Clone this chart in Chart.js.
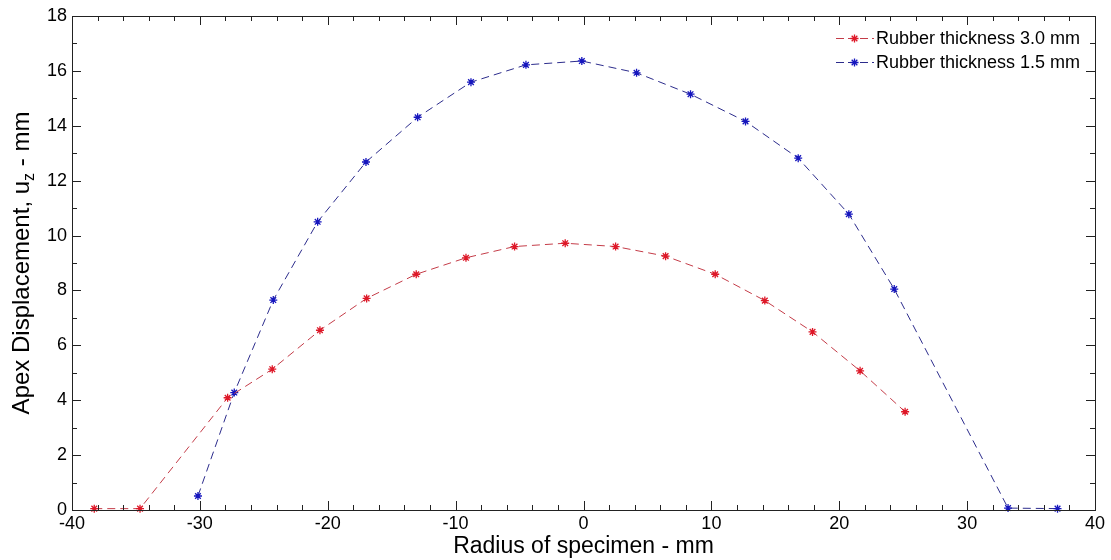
<!DOCTYPE html>
<html>
<head>
<meta charset="utf-8">
<script src="https://cdn.jsdelivr.net/npm/chart.js@4/dist/chart.umd.min.js"></script>
<style>
  html, body { margin: 0; padding: 0; background: #fff; }
  #wrap { width: 1111px; height: 560px; }
</style>
</head>
<body>
<div id="wrap"><canvas id="c" width="1111" height="560"></canvas></div>
<script>
// ---- data ----
const seriesLabels = ['Rubber thickness 3.0 mm', 'Rubber thickness 1.5 mm'];
const xRed  = [-38.26, -34.68, -27.83, -24.34, -20.61, -16.96, -13.08, -9.19, -5.39, -1.43, 2.51, 6.42, 10.30, 14.18, 17.91, 21.63, 25.15];
const yRed  = [0.05, 0.05, 4.09, 5.13, 6.55, 7.71, 8.59, 9.19, 9.60, 9.72, 9.60, 9.25, 8.59, 7.63, 6.49, 5.07, 3.58];
const xBlue = [-30.15, -27.31, -24.26, -20.79, -17.01, -12.97, -8.80, -4.50, -0.13, 4.15, 8.37, 12.67, 16.79, 20.75, 24.30, 33.20, 37.07];
const yBlue = [0.51, 4.28, 7.65, 10.50, 12.68, 14.31, 15.59, 16.22, 16.36, 15.93, 15.15, 14.16, 12.82, 10.78, 8.05, 0.07, 0.05];
const xTitle = 'Radius of specimen - mm';
const yTitleParts = ['Apex Displacement, u', 'z', ' - mm'];
const xRange = [-40, 40], xMajor = 10, xMinor = 2;
const yRange = [0, 18], yMajor = 2, yMinor = 1;

const FONT = '"Liberation Sans", Arial, sans-serif';
const redLine = 'rgb(196,60,72)', redPt = 'rgb(222,24,40)';
const blueLine = 'rgb(44,44,140)', bluePt = 'rgb(22,22,190)';
const DASH = [8, 5];

function pts(xs, ys) { return xs.map((x, i) => ({ x: x, y: ys[i] })); }

// inside tick marks on all four sides + box + y title (with subscript) + legend
const decor = {
  id: 'decor',
  afterDraw(chart) {
    const ctx = chart.ctx, ca = chart.chartArea;
    const xs = chart.scales.x, ys = chart.scales.y;
    ctx.save();
    ctx.strokeStyle = '#222';
    ctx.lineWidth = 1;
    ctx.setLineDash([]);
    ctx.strokeRect(Math.round(ca.left) + 0.5, Math.round(ca.top) + 0.5,
                   Math.round(ca.right - ca.left), Math.round(ca.bottom - ca.top));
    ctx.beginPath();
    for (let v = xRange[0]; v <= xRange[1] + 1e-9; v += xMinor) {
      const major = Math.abs(v / xMajor - Math.round(v / xMajor)) < 1e-9;
      const L = major ? 9 : 5;
      const px = Math.round(xs.getPixelForValue(v)) + 0.5;
      ctx.moveTo(px, ca.bottom); ctx.lineTo(px, ca.bottom - L);
      ctx.moveTo(px, ca.top); ctx.lineTo(px, ca.top + L);
    }
    for (let v = yRange[0]; v <= yRange[1] + 1e-9; v += yMinor) {
      const major = Math.abs(v / yMajor - Math.round(v / yMajor)) < 1e-9;
      const L = major ? 9 : 5;
      const py = Math.round(ys.getPixelForValue(v)) + 0.5;
      ctx.moveTo(ca.left, py); ctx.lineTo(ca.left + L, py);
      ctx.moveTo(ca.right, py); ctx.lineTo(ca.right - L, py);
    }
    ctx.stroke();

    // y title, rotated, with subscript z
    ctx.fillStyle = '#000';
    const big = '24px ' + FONT, small = '16px ' + FONT;
    ctx.font = big; const w0 = ctx.measureText(yTitleParts[0]).width;
    ctx.font = small; const w1 = ctx.measureText(yTitleParts[1]).width;
    ctx.font = big; const w2 = ctx.measureText(yTitleParts[2]).width;
    const total = w0 + w1 + w2;
    ctx.translate(20, (ca.top + ca.bottom) / 2);
    ctx.rotate(-Math.PI / 2);
    ctx.textBaseline = 'alphabetic';
    ctx.textAlign = 'left';
    let sx = -total / 2;
    ctx.font = big; ctx.fillText(yTitleParts[0], sx, 9); sx += w0;
    ctx.font = small; ctx.fillText(yTitleParts[1], sx, 14); sx += w1;
    ctx.font = big; ctx.fillText(yTitleParts[2], sx, 9);
    ctx.restore();

    // legend
    ctx.save();
    const rows = [38, 62];
    chart.data.datasets.forEach((ds, i) => {
      const y = rows[i];
      ctx.strokeStyle = ds.borderColor;
      ctx.lineWidth = 1;
      ctx.setLineDash([8, 4]);
      ctx.beginPath(); ctx.moveTo(836, y + 0.5); ctx.lineTo(874, y + 0.5); ctx.stroke();
      ctx.setLineDash([]);
      ctx.strokeStyle = ds.pointBorderColor;
      ctx.lineWidth = 1.3;
      Chart.helpers.drawPoint(ctx, { pointStyle: 'star', radius: 4, rotation: 0, borderWidth: 1.3 }, 854.5, y + 0.5);
      ctx.fillStyle = '#000';
      ctx.font = '18px ' + FONT;
      ctx.textBaseline = 'middle';
      ctx.textAlign = 'left';
      ctx.fillText(ds.label, 876, y + 1);
    });
    ctx.restore();
  }
};

new Chart(document.getElementById('c'), {
  type: 'scatter',
  data: {
    datasets: [
      {
        label: seriesLabels[0],
        data: pts(xRed, yRed),
        showLine: true,
        borderColor: redLine,
        borderWidth: 1,
        borderDash: DASH,
        pointStyle: 'star',
        pointRadius: 4,
        pointBorderWidth: 1.3,
        pointBorderColor: redPt,
        pointBackgroundColor: redPt,
        clip: false,
        tension: 0
      },
      {
        label: seriesLabels[1],
        data: pts(xBlue, yBlue),
        showLine: true,
        borderColor: blueLine,
        borderWidth: 1,
        borderDash: DASH,
        pointStyle: 'star',
        pointRadius: 4,
        pointBorderWidth: 1.3,
        pointBorderColor: bluePt,
        pointBackgroundColor: bluePt,
        clip: false,
        tension: 0
      }
    ]
  },
  options: {
    responsive: false,
    animation: false,
    layout: { padding: { top: 16, right: 16, left: 0, bottom: 0 } },
    plugins: { legend: { display: false }, tooltip: { enabled: false } },
    scales: {
      x: {
        type: 'linear',
        min: xRange[0], max: xRange[1],
        ticks: { stepSize: xMajor, color: '#000', font: { family: FONT, size: 18 }, padding: 3 },
        grid: { display: false, drawTicks: false },
        border: { display: false },
        title: { display: true, text: xTitle, color: '#000', font: { family: FONT, size: 23 }, padding: { top: 0, bottom: 0 } },
        afterFit(s) { s.height = 50; }
      },
      y: {
        type: 'linear',
        min: yRange[0], max: yRange[1],
        ticks: { stepSize: yMajor, color: '#000', font: { family: FONT, size: 18 }, padding: 5 },
        grid: { display: false, drawTicks: false },
        border: { display: false },
        afterFit(s) { s.width = 72; }
      }
    }
  },
  plugins: [decor]
});
</script>
</body>
</html>
